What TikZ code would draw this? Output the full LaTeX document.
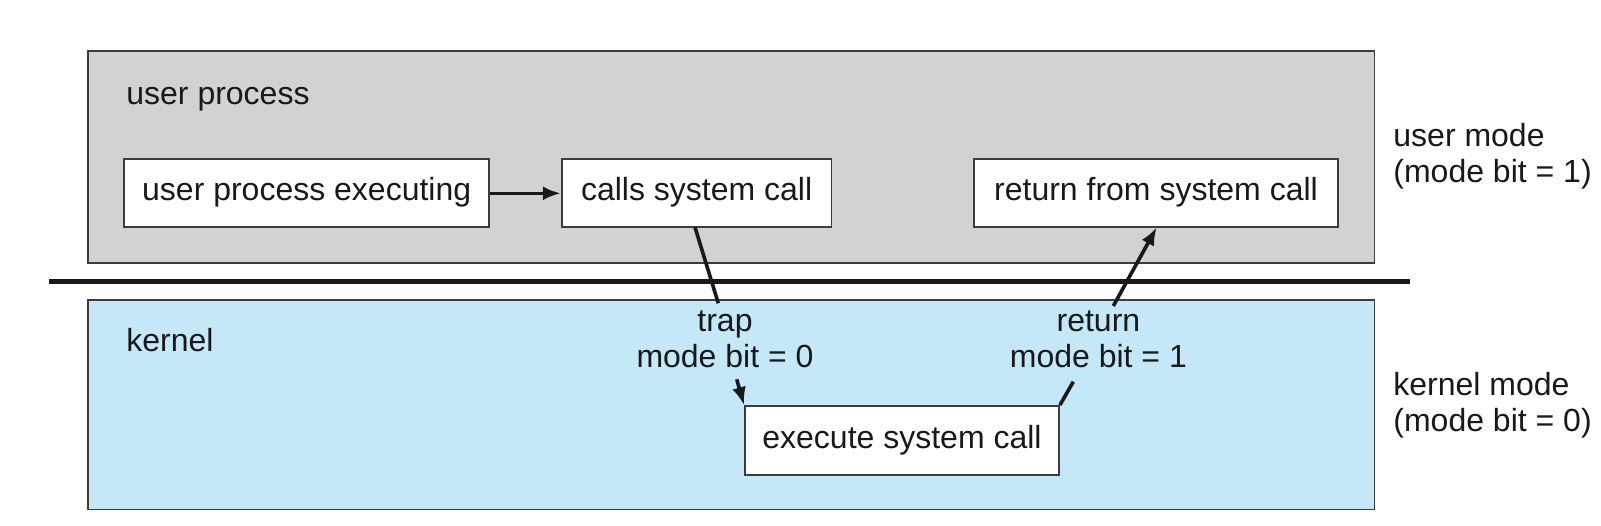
\documentclass[tikz,border=0pt]{standalone}
\usepackage{fontspec}
\setmainfont{Liberation Sans}
\usetikzlibrary{arrows.meta}
\definecolor{panelgray}{RGB}{209,210,212}
\definecolor{panelblue}{RGB}{197,232,249}
\definecolor{edgecol}{RGB}{60,60,60}
\definecolor{inkcol}{RGB}{25,25,25}
\begin{document}
\begin{tikzpicture}[x=0.5pt,y=-0.5pt,
  every node/.style={font=\fontsize{16}{17.7}\selectfont, inner sep=0pt, text=inkcol},
  panel/.style={draw=edgecol, line width=0.9pt},
  stepbox/.style={draw=edgecol, fill=white, line width=0.9pt, text height=11pt, text depth=3.5pt, minimum height=34pt},
  flow/.style={line width=1.8pt, draw=inkcol},
  tip/.style={-{Latex[length=9pt,width=7pt]}}
]
\path[fill=white] (0,0) rectangle (1601,525);
\useasboundingbox (0,0) rectangle (1601,525);
% panels
\draw[panel, fill=panelgray] (88,51) rectangle (1374.5,263);
\draw[panel, fill=panelblue] (88,300) rectangle (1374.5,509.5);
\draw[line width=2.2pt, draw=inkcol] (49,281.5) -- (1410,281.5);
% panel titles
\node[anchor=base west] (up) at (126,104) {user process};
\node[anchor=base west] (kn) at (126,351.5) {kernel};
% boxes
\node[stepbox, minimum width=182.6pt] (b1) at (306.7,193.3) {user process executing};
\node[stepbox, minimum width=134.8pt] (b2) at (696.6,193.3) {calls system call};
\node[stepbox, minimum width=181.7pt] (b3) at (1156,193.3) {return from system call};
\node[stepbox, minimum width=157pt, minimum height=34.5pt] (b4) at (902,440.5) {execute system call};
% labels (anchor base = baseline of the last line)
\node[align=center, anchor=base] (trapl) at (725,367) {trap\\mode bit = 0};
\node[align=center, anchor=base] (retl) at (1098.4,367) {return\\mode bit = 1};
\node[align=left, anchor=base west] (um) at (1393,182) {user mode\\(mode bit = 1)};
\node[align=left, anchor=base west] (km) at (1393,431) {kernel mode\\(mode bit = 0)};
% connectors
\draw[flow, tip] (b1) -- (b2);
\coordinate (t1) at (695,227.3);
\coordinate (t2) at (718.3,303.3);
\coordinate (t3) at (736.7,379.3);
\draw[flow] (t1) -- (t2);
\draw[flow, tip] (t3) -- (b4.north west);
\coordinate (r1) at (1073.3,381.7);
\draw[flow] (r1) -- (b4.north east);
\coordinate (r2) at (1113.3,306);
\coordinate (r3) at (1156.7,227.3);
\draw[flow, tip] (r2) -- (r3);
\end{tikzpicture}
\end{document}
